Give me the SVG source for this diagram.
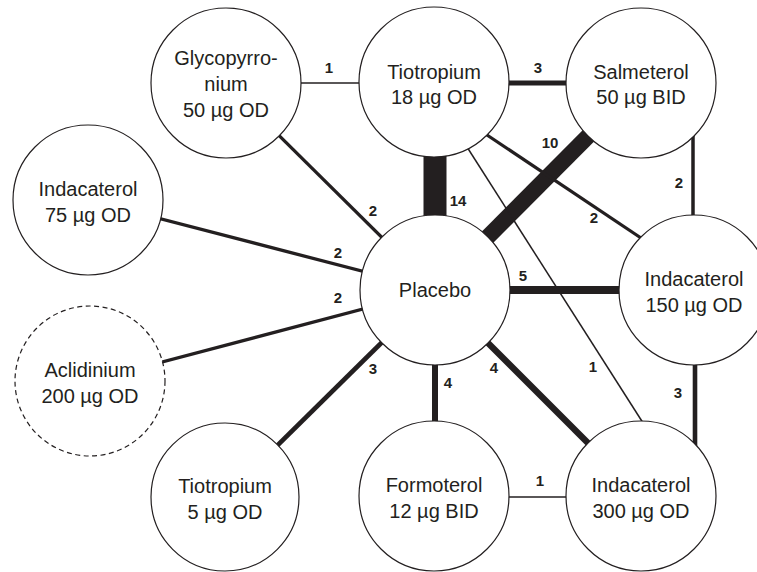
<svg xmlns="http://www.w3.org/2000/svg" width="757" height="572" viewBox="0 0 757 572">
<style>
.bg{fill:#fff}
.node circle{fill:#fff;stroke:#231f20;stroke-width:1.2}
.node.dashed circle{stroke-dasharray:5 3.5}
.node text{font-family:"Liberation Sans",Arial,sans-serif;font-size:20px;fill:#231f20;text-anchor:middle}
#edges line{stroke:#231f20;stroke-linecap:butt}
#edges text{font-family:"Liberation Sans",Arial,sans-serif;font-size:15px;font-weight:bold;fill:#231f20;text-anchor:middle}
</style>
<rect class="bg" x="0" y="0" width="757" height="572"/>
<g id="edges">
  <line x1="226" y1="83" x2="434" y2="83" stroke-width="1.4"/>
  <line x1="434" y1="83" x2="641" y2="83" stroke-width="5"/>
  <line x1="226" y1="83" x2="435" y2="290" stroke-width="3.3"/>
  <line x1="435" y1="82" x2="435" y2="290" stroke-width="23"/>
  <line x1="641" y1="83" x2="435" y2="290" stroke-width="16"/>
  <line x1="484" y1="133" x2="644" y2="240" stroke-width="3.3"/>
  <line x1="467" y1="147" x2="645" y2="426" stroke-width="1.5"/>
  <line x1="693" y1="125" x2="693" y2="222" stroke-width="3.5"/>
  <line x1="435" y1="290" x2="694" y2="290" stroke-width="8"/>
  <line x1="695" y1="355" x2="695" y2="450" stroke-width="4.6"/>
  <line x1="88" y1="200" x2="435" y2="290" stroke-width="3.3"/>
  <line x1="90" y1="381" x2="435" y2="290" stroke-width="3.3"/>
  <line x1="225" y1="497" x2="435" y2="290" stroke-width="4.6"/>
  <line x1="435" y1="290" x2="435" y2="496" stroke-width="6"/>
  <line x1="641" y1="496" x2="435" y2="290" stroke-width="6.5"/>
  <line x1="434" y1="497" x2="641" y2="497" stroke-width="1.4"/>
  <text x="329" y="73">1</text>
  <text x="538" y="73">3</text>
  <text x="550" y="148">10</text>
  <text x="679" y="188">2</text>
  <text x="458" y="206">14</text>
  <text x="373" y="216">2</text>
  <text x="594" y="223">2</text>
  <text x="338" y="258">2</text>
  <text x="338" y="303">2</text>
  <text x="523" y="281">5</text>
  <text x="373" y="374">3</text>
  <text x="494" y="373">4</text>
  <text x="448" y="388">4</text>
  <text x="593" y="372">1</text>
  <text x="678" y="398">3</text>
  <text x="540" y="486">1</text>
</g>
<g id="glycopyrronium" class="node">
  <circle cx="226" cy="83" r="75"/>
  <text x="226" y="65">Glycopyrro-</text>
  <text x="226" y="91">nium</text>
  <text x="226" y="117">50 µg OD</text>
</g>
<g id="tiotropium18" class="node">
  <circle cx="434" cy="82" r="75"/>
  <text x="434" y="79">Tiotropium</text>
  <text x="434" y="104">18 µg OD</text>
</g>
<g id="salmeterol" class="node">
  <circle cx="641" cy="83" r="75"/>
  <text x="641" y="79">Salmeterol</text>
  <text x="641" y="104">50 µg BID</text>
</g>
<g id="indacaterol75" class="node">
  <circle cx="88" cy="200" r="75"/>
  <text x="88" y="196">Indacaterol</text>
  <text x="88" y="222">75 µg OD</text>
</g>
<g id="placebo" class="node">
  <circle cx="435" cy="290" r="75"/>
  <text x="435" y="297">Placebo</text>
</g>
<g id="indacaterol150" class="node">
  <circle cx="694" cy="290" r="75"/>
  <text x="694" y="286">Indacaterol</text>
  <text x="694" y="312">150 µg OD</text>
</g>
<g id="aclidinium" class="node dashed">
  <circle cx="90" cy="381" r="75"/>
  <text x="90" y="377">Aclidinium</text>
  <text x="90" y="403">200 µg OD</text>
</g>
<g id="tiotropium5" class="node">
  <circle cx="225" cy="497" r="74"/>
  <text x="225" y="493">Tiotropium</text>
  <text x="225" y="519">5 µg OD</text>
</g>
<g id="formoterol" class="node">
  <circle cx="434" cy="496" r="75"/>
  <text x="434" y="492">Formoterol</text>
  <text x="434" y="518">12 µg BID</text>
</g>
<g id="indacaterol300" class="node">
  <circle cx="641" cy="496" r="75"/>
  <text x="641" y="492">Indacaterol</text>
  <text x="641" y="518">300 µg OD</text>
</g>
</svg>
